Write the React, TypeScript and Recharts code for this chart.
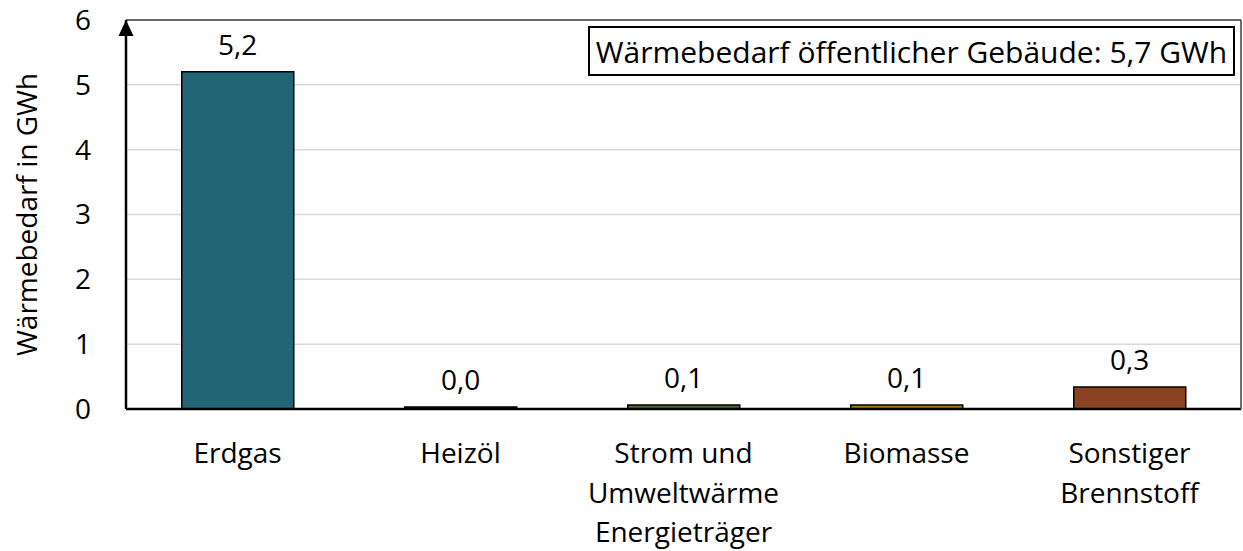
import React from "react";
import {
  BarChart,
  Bar,
  Cell,
  XAxis,
  YAxis,
  CartesianGrid,
  LabelList,
  Legend,
  ReferenceLine,
} from "recharts";

const categories = ["Erdgas", "Heizöl", "Strom und\nUmweltwärme", "Biomasse", "Sonstiger\nBrennstoff"];
const values = [5.2, 0.03, 0.06, 0.06, 0.34];
const colors = ["#226577", "#1c1c1c", "#4e6b2f", "#a8740f", "#8a4220"];
const yTicks = [0, 1, 2, 3, 4, 5, 6];
const totalLabel = "Wärmebedarf öffentlicher Gebäude: 5,7 GWh";

const data = categories.map((name, i) => ({ name, value: values[i] }));

const FONT = "'Open Sans', 'Noto Sans', sans-serif";
const FS = 28;

const fmt = (v: number) => v.toFixed(1).replace(".", ",");

function CategoryTick({ x, y, payload }: any) {
  const lines = String(payload.value).split("\n");
  return (
    <text x={x} y={y} textAnchor="middle" fontSize={FS} fill="#000" fontFamily={FONT}>
      {lines.map((l, i) => (
        <tspan key={i} x={x} dy={i === 0 ? 48 : 40}>
          {l}
        </tspan>
      ))}
    </text>
  );
}

function TotalBox() {
  return (
    <div
      style={{
        boxSizing: "border-box",
        width: 647,
        height: 50,
        border: "2px solid #000",
        background: "#fff",
        display: "flex",
        alignItems: "center",
        justifyContent: "center",
        fontSize: 30,
        fontFamily: FONT,
        color: "#000",
        whiteSpace: "nowrap",
      }}
    >
      {totalLabel}
    </div>
  );
}

export default function App() {
  return (
    <div style={{ position: "absolute", left: 0, top: 0, width: 1243, height: 551, background: "#fff", fontFamily: FONT }}>
      <BarChart width={1243} height={551} data={data} margin={{ top: 20, right: 0, bottom: 0, left: 0 }} barCategoryGap="25%">
        <defs>
          <marker
            id="yArrow"
            markerUnits="userSpaceOnUse"
            markerWidth={16}
            markerHeight={16}
            viewBox="-8 0 16 16"
            refX={0}
            refY={0}
            orient="0"
          >
            <path d="M0,0 L7.5,16 L-7.5,16 Z" fill="#000" />
          </marker>
        </defs>
        <CartesianGrid vertical={false} stroke="#d9d9d9" strokeWidth={1.5} />
        <XAxis
          dataKey="name"
          height={142}
          tickLine={false}
          tickMargin={0}
          axisLine={{ stroke: "#000", strokeWidth: 2.5 }}
          tick={<CategoryTick />}
          interval={0}
          label={({ viewBox }: any) => (
            <text
              x={viewBox.x + viewBox.width / 2}
              y={viewBox.y + 133}
              textAnchor="middle"
              fontSize={FS}
              fontFamily={FONT}
              fill="#000"
            >
              Energieträger
            </text>
          )}
        />
        <YAxis
          width={126}
          domain={[0, 6]}
          ticks={yTicks}
          tickLine={false}
          tickMargin={29}
          tick={{ fontSize: FS, fill: "#000", fontFamily: FONT }}
          axisLine={{ stroke: "#000", strokeWidth: 2.5, markerStart: "url(#yArrow)" }}
          label={({ viewBox }: any) => {
            const cx = 37;
            const cy = viewBox.y + viewBox.height / 2;
            return (
              <text
                x={cx}
                y={cy}
                transform={`rotate(-90 ${cx} ${cy})`}
                textAnchor="middle"
                fontSize={FS}
                fontFamily={FONT}
                fill="#000"
              >
                Wärmebedarf in GWh
              </text>
            );
          }}
        />
        <YAxis
          yAxisId="right"
          orientation="right"
          width={2}
          domain={[0, 6]}
          tick={false}
          tickLine={false}
          axisLine={{ stroke: "#404040", strokeWidth: 1.5 }}
        />
        <ReferenceLine y={6} stroke="#404040" strokeWidth={1.5} />
        <Legend
          layout="horizontal"
          verticalAlign="middle"
          wrapperStyle={{ top: 26, left: 588, width: 647, height: 50 }}
          content={() => <TotalBox />}
        />
        <Bar dataKey="value" stroke="#000" strokeWidth={1.5} isAnimationActive={false}>
          {data.map((d, i) => (
            <Cell key={d.name} fill={colors[i]} />
          ))}
          <LabelList
            dataKey="value"
            position="top"
            offset={17}
            formatter={(v: any) => fmt(Number(v))}
            style={{ fontSize: FS, fill: "#000", fontFamily: FONT }}
          />
        </Bar>
      </BarChart>
    </div>
  );
}
